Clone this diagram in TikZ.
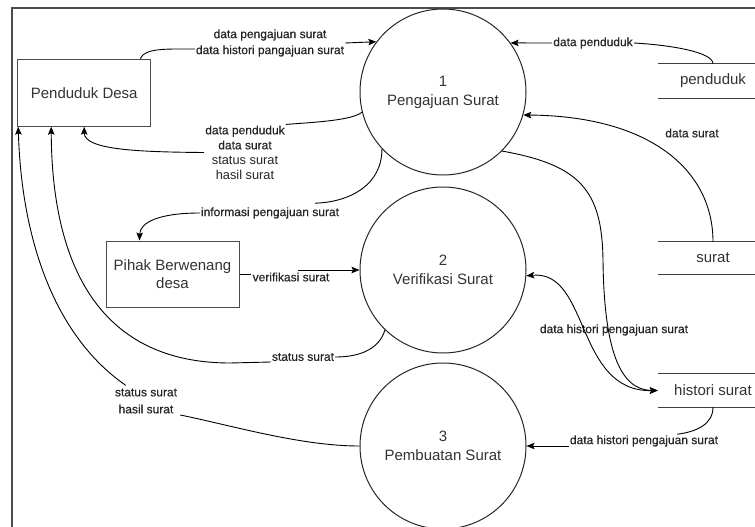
\documentclass[tikz,border=0pt]{standalone}
\usepackage{fontspec}
\setmainfont{Liberation Sans}
\newfontfamily\lblfont[FakeBold=0.5]{Liberation Sans}
\usetikzlibrary{arrows.meta,calc}
\begin{document}
\begin{tikzpicture}[x=1pt,y=-1pt,
  >={Stealth[length=8pt,width=6.5pt,inset=1.5pt]},
  ent/.style={draw=black!70, line width=1pt, inner sep=0pt, font=\fontsize{15}{18}\selectfont, text=black!80, align=center},
  proc/.style={circle, draw=black!85, line width=1pt, minimum size=166pt, inner sep=0pt, font=\fontsize{15}{19}\selectfont, text=black!80, align=center},
  store/.style={inner sep=0pt, minimum width=110pt, font=\fontsize{15}{18}\selectfont, text=black!80},
  storeline/.style={draw=black!75, line width=1pt},
  lbl/.style={inner sep=1pt, font=\lblfont\fontsize{12}{15}\selectfont, text=black!85, align=center},
  flowarrow/.style={draw=black, line width=0.9pt, ->},
  flowboth/.style={draw=black, line width=0.9pt, <->},
  conn/.style={draw=black, line width=0.9pt},
  outerframe/.style={draw=black!70, line width=1.6pt}
]
\useasboundingbox (0,0) rectangle (755,527);
\fill[white] (0,0) rectangle (755,527);
% frame
\coordinate (fbl) at (12,527);
\coordinate (ftl) at (12,8);
\coordinate (ftr) at (755,8);
\draw[outerframe] (fbl) -- (ftl) -- (ftr);

% entities
\node[ent, minimum width=133pt, minimum height=67pt] (desa) at (84.2,92.7) {Penduduk Desa};
\node[ent, minimum width=133pt, minimum height=66pt] (pihak) at (172.5,274) {Pihak Berwenang\\desa};

% processes
\node[proc] (p1) at (443,92) {1\\Pengajuan Surat};
\node[proc] (p2) at (443,270) {2\\Verifikasi Surat};
\node[proc] (p3) at (443,446) {3\\Pembuatan Surat};

% data stores
\node[store, minimum height=34pt] (dsp) at (713,81) {penduduk};
\node[store, minimum height=32pt] (dss) at (713,258) {surat};
\node[store, minimum height=33pt] (dsh) at (713,390.5) {histori surat};
\foreach \s in {dsp,dss,dsh}{
  \draw[storeline] (\s.north west) -- (\s.north west -| ftr);
  \draw[storeline] (\s.south west) -- (\s.south west -| ftr);
}

% labels
\node[lbl, font=\lblfont\fontsize{12}{16}\selectfont] (la) at (270,43) {data pengajuan surat\\data histori pangajuan surat};
\node[lbl] (lb) at (245,152.5) {data penduduk\\data surat\\{\normalfont\fontsize{12.8}{15}\selectfont status surat}\\{\normalfont\fontsize{12.8}{15}\selectfont hasil surat}};
\node[lbl] (lc) at (593,43) {data penduduk};
\node[lbl] (ld) at (692,133) {data surat};
\node[lbl] (le) at (270,213) {informasi pengajuan surat};
\node[lbl] (lf) at (291,277) {verifikasi surat};
\node[lbl] (lg) at (303,357) {status surat};
\node[lbl, font=\lblfont\fontsize{12}{17}\selectfont] (lh) at (146,401) {status surat\\hasil surat};
\node[lbl] (li) at (614,330) {data histori pengajuan surat};
\node[lbl] (lk) at (644,441) {data histori pengajuan surat};

% A: desa -> p1
\draw[conn] ($(desa.north east)+(-11,0)$) .. controls (145,48) and (165,49) .. ($(la.west)+(0,6)$);
\draw[flowarrow] (la.east) -- (p1.143);
% B: p1 -> desa
\draw[conn] (p1.194.5) .. controls (352,120) and (320,122) .. (lb.north east);
\draw[flowarrow] (lb.west) .. controls (140,152) and (84.2,150) .. (desa.south);
% C: penduduk store -> p1
\draw[conn] (dsp.north) .. controls (713,52) and (670,45) .. (lc.east);
\draw[flowarrow] (lc.west) -- (p1.36);
% D: surat store -> p1
\draw[flowarrow] (dss.north) .. controls (713,170) and (650,116) .. (p1.344);
% E: p1 -> pihak
\draw[conn] (p1.223.5) .. controls (382,185) and (350,202) .. ($(le.north east)+(-25,-3)$);
\draw[flowarrow] (le.west) .. controls (160,213) and (140,222) .. ($(pihak.north west)+(34,0)$);
% F: pihak -> p2
\coordinate (vf) at (298,270);
\draw[conn] (pihak.east) -- (pihak.east -| lf.west);
\draw[flowarrow] (vf) -- (p2.west);
% G: p2 -> desa
\coordinate (g1) at (230,363);
\draw[conn] (p2.226) .. controls (378,352) and (355,357) .. (lg.east);
\draw[flowarrow] ($(lg.west)+(0,5)$) -- (g1) .. controls (110,363) and (52,280) .. ($(desa.south west)+(34,0)$);
% H: p3 -> desa
\draw[conn] (p3.west) .. controls (300,446) and (230,425) .. ($(lh.east)+(2,14)$);
\draw[flowarrow] ($(lh.north west)+(12,-2)$) .. controls (60,340) and (22,250) .. ($(desa.south west)+(1,0)$);
% I: p2 <-> histori
\draw[flowboth] (p2.356) .. controls (590,270) and (575,392) .. (dsh.west);
% J: p1 -> histori
\coordinate (j1) at (603,260);
\draw[flowarrow] (p1.315.5) .. controls (580,165) and (602,190) .. (j1) .. controls (604,350) and (620,390) .. (dsh.west);
% K: histori -> p3
\draw[conn] (dsh.south) .. controls (713,425) and (695,432) .. ($(lk.north east)+(-42,0)$);
\draw[flowarrow] (lk.west |- p3.east) -- (p3.east);
\end{tikzpicture}
\end{document}
